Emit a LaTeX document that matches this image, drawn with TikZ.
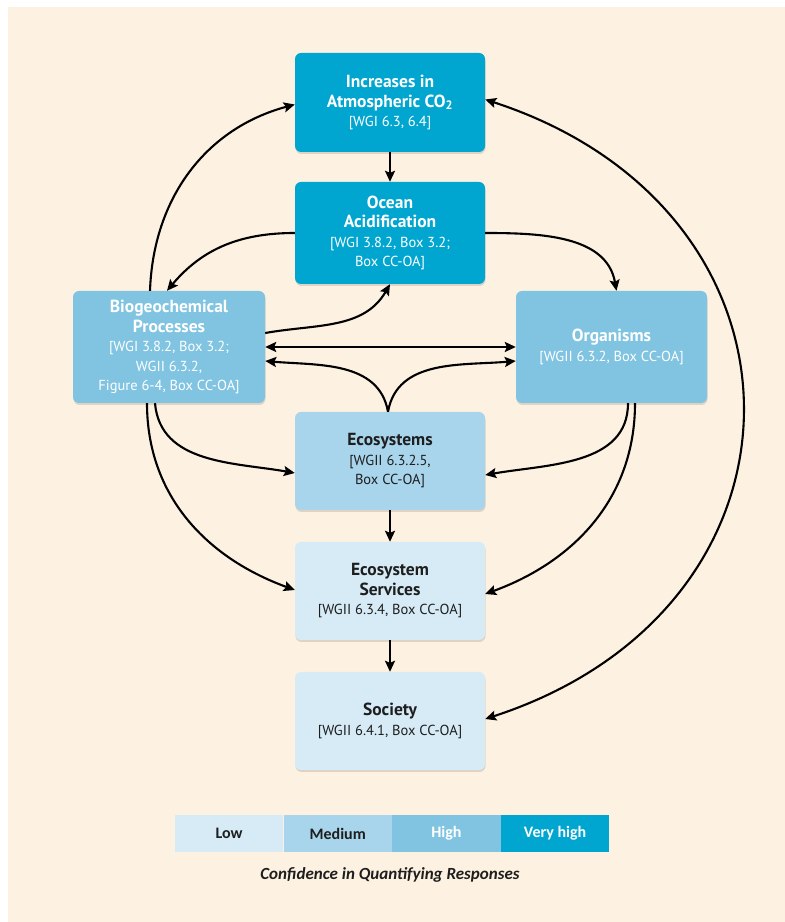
\documentclass[tikz,border=0pt]{standalone}
\usepackage{fontspec}
\setmainfont{PT Sans}
\newfontfamily\legendfont{Carlito}
\usetikzlibrary{arrows.meta,shadows,positioning}

\definecolor{veryhigh}{HTML}{00A6D0}
\definecolor{high}{HTML}{80C4E1}
\definecolor{medium}{HTML}{A9D5EC}
\definecolor{low}{HTML}{D7EBF7}
\definecolor{paper}{HTML}{FDF1E1}
\definecolor{inkdark}{HTML}{1E1E1E}

\newcommand{\refline}[1]{{\fontsize{14.5}{18}\selectfont\mdseries #1}}

\begin{document}
\begin{tikzpicture}[x=1pt, y=1pt,
	panel/.style = {
		shape=rectangle, rounded corners=6pt,
		align=center, minimum width=190pt, inner sep=2pt,
		font=\fontsize{17.5}{19.5}\selectfont\bfseries,
		drop shadow={shadow xshift=0.5pt, shadow yshift=-2pt,
			opacity=0.12, fill=black}},
	vhbox/.style = {panel, fill=veryhigh, text=white},
	hibox/.style = {panel, fill=high, text=white},
	medbox/.style = {panel, fill=medium, text=inkdark},
	lowbox/.style = {panel, fill=low, text=inkdark},
	keycell/.style = {shape=rectangle, minimum width=108.25pt, minimum height=37pt,
		inner sep=0pt, font=\legendfont\fontsize{16}{19}\selectfont\bfseries},
	link/.style = {-{Stealth[length=11pt, width=10pt, inset=2pt]}, line width=2.1pt, black},
	twolink/.style = {link, {Stealth[length=11pt, width=10pt, inset=2pt]}-{Stealth[length=11pt, width=10pt, inset=2pt]}}]

	\useasboundingbox (0,0) rectangle (785,922);
	\fill[white] (0,0) rectangle (785,922);
	\fill[paper] (8,0) rectangle (785,915);

	% boxes
	\node[vhbox, minimum height=99pt] (co2) at (390,819.5)
		{Increases in\\Atmospheric CO\textsubscript{2}\\\refline{[WGI 6.3, 6.4]}};
	\node[vhbox, minimum height=102pt] (acid) at (390,689)
		{Ocean\\Acidification\\\refline{[WGI 3.8.2, Box 3.2;}\\\refline{Box CC-OA]}};
	\node[hibox, minimum width=192pt, minimum height=112pt] (bio) at (169,575)
		{Biogeochemical\\Processes\\\refline{[WGI 3.8.2, Box 3.2;}\\\refline{WGII 6.3.2,}\\\refline{Figure 6-4, Box CC-OA]}};
	\node[hibox, minimum width=191pt, minimum height=112pt] (org) at (611.5,575)
		{Organisms\\\refline{[WGII 6.3.2, Box CC-OA]}};
	\node[medbox, minimum height=98pt] (eco) at (390,461)
		{Ecosystems\\\refline{[WGII 6.3.2.5,}\\\refline{Box CC-OA]}};
	\node[lowbox, minimum height=98pt] (serv) at (390,331)
		{Ecosystem\\Services\\\refline{[WGII 6.3.4, Box CC-OA]}};
	\node[lowbox, minimum height=98pt] (soc) at (390,201)
		{Society\\\refline{[WGII 6.4.1, Box CC-OA]}};

	% straight links
	\draw[link] (co2) -- (acid);
	\draw[link] (eco) -- (serv);
	\draw[link] (serv) -- (soc);
	\draw[twolink] (bio.east) -- (org.west);

	% curved links
	\draw[link] ([xshift=-19pt]bio.north) to[out=88, in=195] ([yshift=-2pt]co2.west);
	\draw[link] (acid.west) to[out=180, in=50] ([xshift=-2pt]bio.north);
	\draw[link] ([yshift=14pt]bio.east) to[out=10, in=-120] (acid.south);
	\draw[link] (acid.east) to[out=0, in=100] ([xshift=5pt]org.north);
	\draw[link] ([xshift=-2pt]eco.north) to[out=100, in=-5] ([yshift=-14pt]bio.east);
	\draw[link] ([xshift=-2pt]eco.north) to[out=80, in=185] ([yshift=-14pt]org.west);
	\draw[link] ([xshift=-14pt]bio.south) to[out=-85, in=170] ([yshift=-12pt]eco.west);
	\draw[link] ([xshift=-22pt]bio.south) to[out=-90, in=160] ([yshift=1pt]serv.west);
	\draw[link] ([xshift=16.5pt]org.south) to[out=-90, in=10] ([yshift=-14pt]eco.east);
	\draw[link] ([xshift=23.5pt]org.south) to[out=-90, in=20] ([yshift=-3pt]serv.east);
	\draw[twolink] ([yshift=3pt]co2.east) .. controls +(-18:360) and +(18:360) .. ([yshift=2pt]soc.east);

	% confidence key
	\node[keycell, fill=low, text=inkdark] (klow) at (229.1,88.5) {Low};
	\node[keycell, fill=medium, text=inkdark, right=0pt of klow] (kmed) {Medium};
	\node[keycell, fill=high, text=white, right=0pt of kmed] (khigh) {High};
	\node[keycell, fill=veryhigh, text=white, right=0pt of khigh] (kvhigh) {Very high};
	\node[font=\legendfont\fontsize{17}{20}\selectfont\bfseries\itshape, text=inkdark] (keytitle) at (390,47)
		{Confidence in Quantifying Responses};
\end{tikzpicture}
\end{document}
